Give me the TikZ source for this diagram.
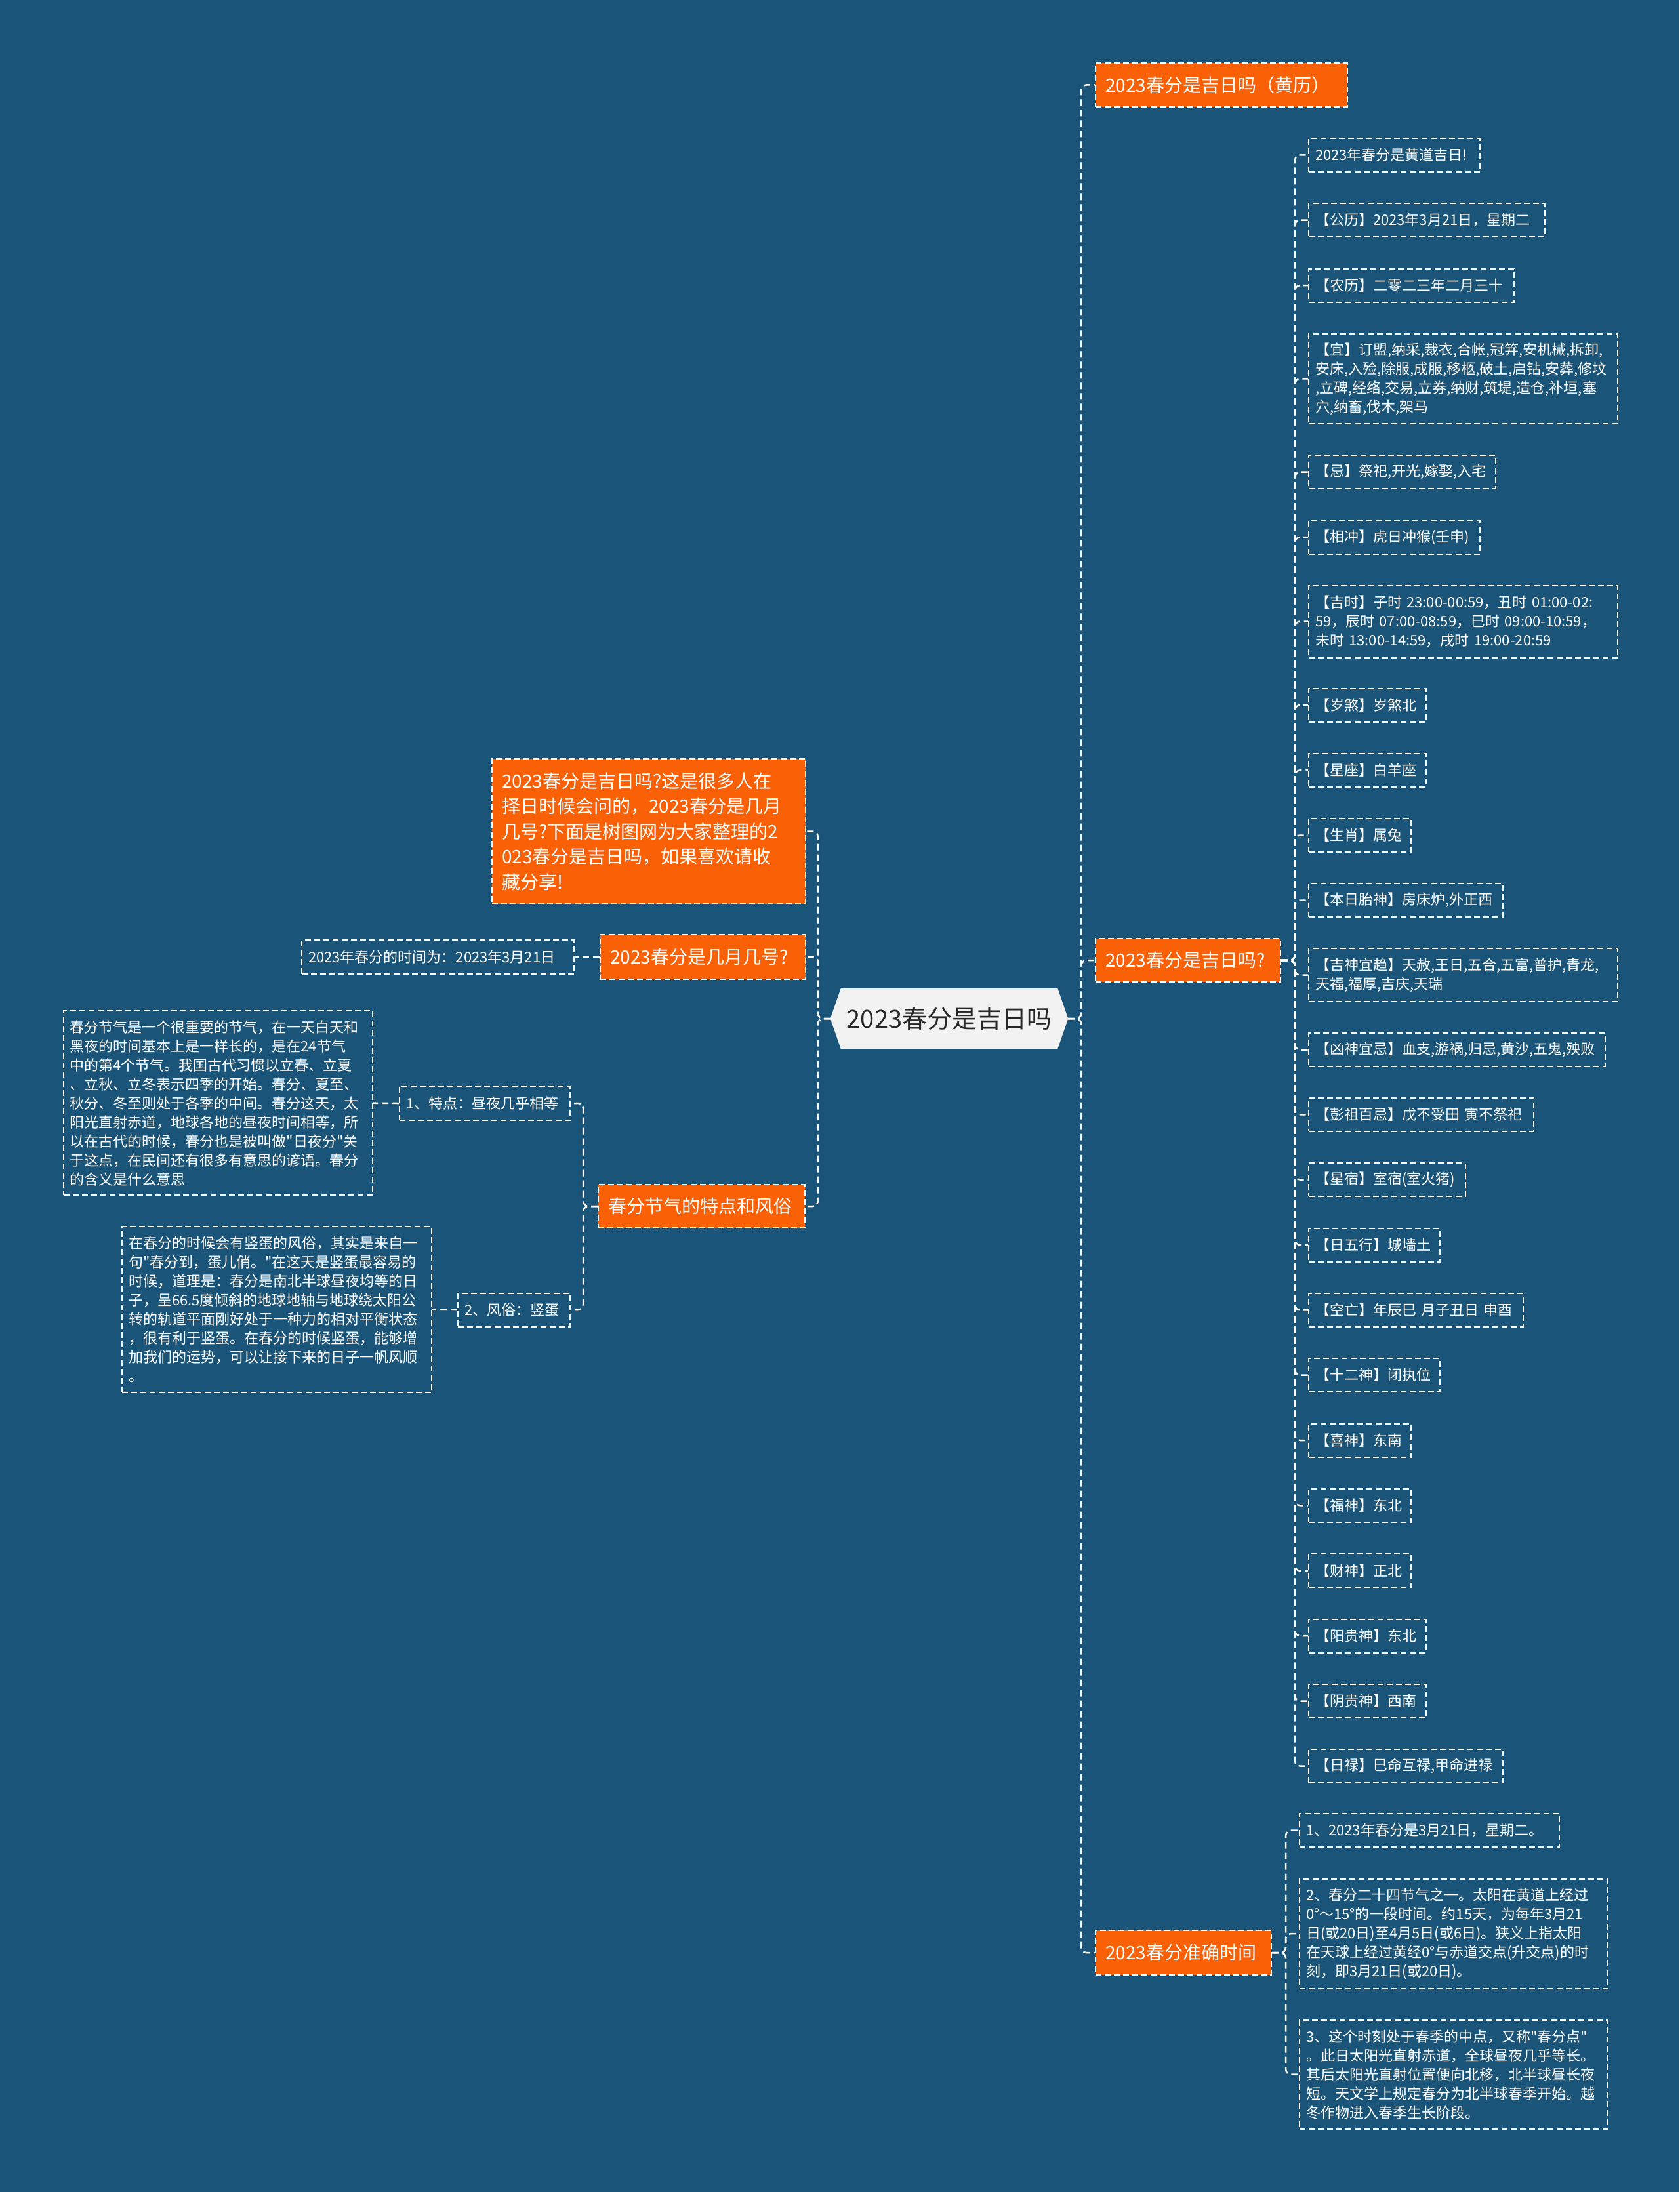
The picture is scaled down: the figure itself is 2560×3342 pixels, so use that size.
\documentclass[tikz,border=0pt]{standalone}
\usepackage{fontspec}
\setmainfont{Noto Sans CJK SC}[Ligatures=TeXOff]
\definecolor{bgblue}{RGB}{26,84,121}
\definecolor{orangeC}{RGB}{250,96,5}
\definecolor{rootfill}{RGB}{242,242,242}
\definecolor{roottext}{RGB}{40,40,40}
\pgfdeclarelayer{bg}
\pgfsetlayers{bg,main}
\begin{document}
\begin{tikzpicture}[x=1pt,y=-1pt,
  conn/.style={draw=white, line width=2.5pt, dash pattern=on 10pt off 6pt, rounded corners=8pt},
  obox/.style={anchor=west, fill=orangeC, draw=white, line width=2pt, dash pattern=on 9pt off 5pt,
    text=white, font=\fontsize{28}{38.5}\selectfont, inner xsep=15pt, inner ysep=0pt, align=left},
  wbox/.style={anchor=west, draw=white, line width=2pt, dash pattern=on 9pt off 5pt,
    text=white, font=\fontsize{22}{29}\selectfont, inner xsep=10pt, inner ysep=0pt, align=left},
  rootn/.style={minimum width=362pt, minimum height=92pt, inner sep=0pt, text=roottext,
    font=\fontsize{38}{46}\selectfont}
]
\useasboundingbox (0,0) rectangle (2560,3342);

% root
\node[rootn] (root) at (1447,1553) {2023春分是吉日吗};

% right branches
\node[obox, text width=354pt, minimum height=67pt] (b1) at (1669,129.5) {2023春分是吉日吗（黄历）};
\node[obox, text width=252pt, minimum height=66pt] (b2) at (1669,1464) {2023春分是吉日吗?};
\node[obox, text width=238pt, minimum height=68pt] (b3) at (1669,2977) {2023春分准确时间};

% children of b2
\node[wbox, text width=241pt, minimum height=51pt] (c1) at (1994,236.5) {2023年春分是黄道吉日!};
\node[wbox, text width=340pt, minimum height=51pt] (c2) at (1994,335.5) {【公历】2023年3月21日，星期二};
\node[wbox, text width=293pt, minimum height=51pt] (c3) at (1994,435) {【农历】二零二三年二月三十};
\node[wbox, text width=451pt, minimum height=137pt] (c4) at (1994,577.4) {【宜】订盟,纳采,裁衣,合帐,冠笄,安机械,拆卸,\\安床,入殓,除服,成服,移柩,破土,启钻,安葬,修坟\\,立碑,经络,交易,立券,纳财,筑堤,造仓,补垣,塞\\穴,纳畜,伐木,架马};
\node[wbox, text width=264.5pt, minimum height=51pt] (c5) at (1994,719.5) {【忌】祭祀,开光,嫁娶,入宅};
\node[wbox, text width=241pt, minimum height=51pt] (c6) at (1994,819) {【相冲】虎日冲猴(壬申)};
\node[wbox, text width=451pt, minimum height=110pt] (c7) at (1994,947.5) {【吉时】子时~23:00-00:59，丑时~01:00-02:\\59，辰时~07:00-08:59，巳时~09:00-10:59，\\未时~13:00-14:59，戌时~19:00-20:59};
\node[wbox, text width=158.6pt, minimum height=51pt] (c8) at (1994,1075) {【岁煞】岁煞北};
\node[wbox, text width=158.6pt, minimum height=51pt] (c9) at (1994,1174.3) {【星座】白羊座};
\node[wbox, text width=136pt, minimum height=51pt] (c10) at (1994,1273.5) {【生肖】属兔};
\node[wbox, text width=276pt, minimum height=51pt] (c11) at (1994,1372.5) {【本日胎神】房床炉,外正西};
\node[wbox, text width=451pt, minimum height=81pt] (c12) at (1994,1486.5) {【吉神宜趋】天赦,王日,五合,五富,普护,青龙,\\天福,福厚,吉庆,天瑞};
\node[wbox, text width=432pt, minimum height=51pt] (c13) at (1994,1600.5) {【凶神宜忌】血支,游祸,归忌,黄沙,五鬼,殃败};
\node[wbox, text width=323pt, minimum height=51pt] (c14) at (1994,1699.4) {【彭祖百忌】戊不受田~寅不祭祀};
\node[wbox, text width=218.6pt, minimum height=51pt] (c15) at (1994,1798.5) {【星宿】室宿(室火猪)};
\node[wbox, text width=180pt, minimum height=51pt] (c16) at (1994,1898) {【日五行】城墙土};
\node[wbox, text width=307pt, minimum height=51pt] (c17) at (1994,1997.4) {【空亡】年辰巳~月子丑日~申酉};
\node[wbox, text width=180pt, minimum height=51pt] (c18) at (1994,2096.5) {【十二神】闭执位};
\node[wbox, text width=136pt, minimum height=51pt] (c19) at (1994,2196) {【喜神】东南};
\node[wbox, text width=136pt, minimum height=51pt] (c20) at (1994,2295.3) {【福神】东北};
\node[wbox, text width=136pt, minimum height=51pt] (c21) at (1994,2394.8) {【财神】正北};
\node[wbox, text width=158.6pt, minimum height=51pt] (c22) at (1994,2494) {【阳贵神】东北};
\node[wbox, text width=158.6pt, minimum height=51pt] (c23) at (1994,2593.5) {【阴贵神】西南};
\node[wbox, text width=276pt, minimum height=51pt] (c24) at (1994,2692.5) {【日禄】巳命互禄,甲命进禄};

% children of b3
\node[wbox, text width=376pt, minimum height=51pt] (d1) at (1980,2790.7) {1、2023年春分是3月21日，星期二。};
\node[wbox, text width=450pt, minimum height=167pt] (d2) at (1980,2948) {2、春分二十四节气之一。太阳在黄道上经过\\0°～15°的一段时间。约15天，为每年3月21\\日(或20日)至4月5日(或6日)。狭义上指太阳\\在天球上经过黄经0°与赤道交点(升交点)的时\\刻，即3月21日(或20日)。};
\node[wbox, text width=450pt, minimum height=166pt] (d3) at (1980,3162.7) {3、这个时刻处于春季的中点，又称"春分点"\\。此日太阳光直射赤道，全球昼夜几乎等长。\\其后太阳光直射位置便向北移，北半球昼长夜\\短。天文学上规定春分为北半球春季开始。越\\冬作物进入春季生长阶段。};

% left branches
\node[obox, text width=448pt, minimum height=221pt] (l1) at (749,1267.5) {2023春分是吉日吗?这是很多人在\\择日时候会问的，2023春分是几月\\几号?下面是树图网为大家整理的2\\023春分是吉日吗，如果喜欢请收\\藏分享!};
\node[obox, text width=283pt, minimum height=68pt] (l2) at (914,1459) {2023春分是几月几号?};
\node[obox, text width=285pt, minimum height=66pt] (l3) at (911,1839) {春分节气的特点和风俗};

\node[wbox, text width=395pt, minimum height=51.5pt] (l2c) at (459,1459) {2023年春分的时间为：2023年3月21日};
\node[wbox, text width=240pt, minimum height=52pt] (l3a) at (608,1682) {1、特点：昼夜几乎相等};
\node[wbox, text width=451pt, minimum height=281pt] (l3a1) at (95.6,1681.7) {春分节气是一个很重要的节气，在一天白天和\\黑夜的时间基本上是一样长的，是在24节气\\中的第4个节气。我国古代习惯以立春、立夏\\、立秋、立冬表示四季的开始。春分、夏至、\\秋分、冬至则处于各季的中间。春分这天，太\\阳光直射赤道，地球各地的昼夜时间相等，所\\以在古代的时候，春分也是被叫做"日夜分"关\\于这点，在民间还有很多有意思的谚语。春分\\的含义是什么意思};
\node[wbox, text width=151pt, minimum height=51pt] (l3b) at (697,1997) {2、风俗：竖蛋};
\node[wbox, text width=452pt, minimum height=253pt] (l3b1) at (185,1996.6) {在春分的时候会有竖蛋的风俗，其实是来自一\\句"春分到，蛋儿俏。"在这天是竖蛋最容易的\\时候，道理是：春分是南北半球昼夜均等的日\\子，呈66.5度倾斜的地球地轴与地球绕太阳公\\转的轨道平面刚好处于一种力的相对平衡状态\\，很有利于竖蛋。在春分的时候竖蛋，能够增\\加我们的运势，可以让接下来的日子一帆风顺\\。};

% connectors
\draw[conn] (root.east) -- ++(20,0) |- (b1.west);
\draw[conn] (root.east) -- ++(20,0) |- (b2.west);
\draw[conn] (root.east) -- ++(20,0) |- (b3.west);
\foreach \i in {1,...,24} \draw[conn] (b2.east) -- ++(21,0) |- (c\i.west);
\foreach \i in {1,2,3} \draw[conn] (b3.east) -- ++(21,0) |- (d\i.west);
\draw[conn] (root.west) -- ++(-19,0) |- (l1.east);
\draw[conn] (root.west) -- ++(-19,0) |- (l2.east);
\draw[conn] (root.west) -- ++(-19,0) |- (l3.east);
\draw[conn] (l2.west) -- (l2c.east);
\draw[conn] (l3.west) -- ++(-22,0) |- (l3a.east);
\draw[conn] (l3.west) -- ++(-22,0) |- (l3b.east);
\draw[conn] (l3a.west) -- (l3a1.east);
\draw[conn] (l3b.west) -- (l3b1.east);

\begin{pgfonlayer}{bg}
\fill[bgblue] (0,0) rectangle (2560,3342);
\fill[rootfill] (root.west) -- ([xshift=16pt]root.north west) -- ([xshift=-16pt]root.north east)
  -- (root.east) -- ([xshift=-16pt]root.south east) -- ([xshift=16pt]root.south west) -- cycle;
\end{pgfonlayer}
\end{tikzpicture}
\end{document}
